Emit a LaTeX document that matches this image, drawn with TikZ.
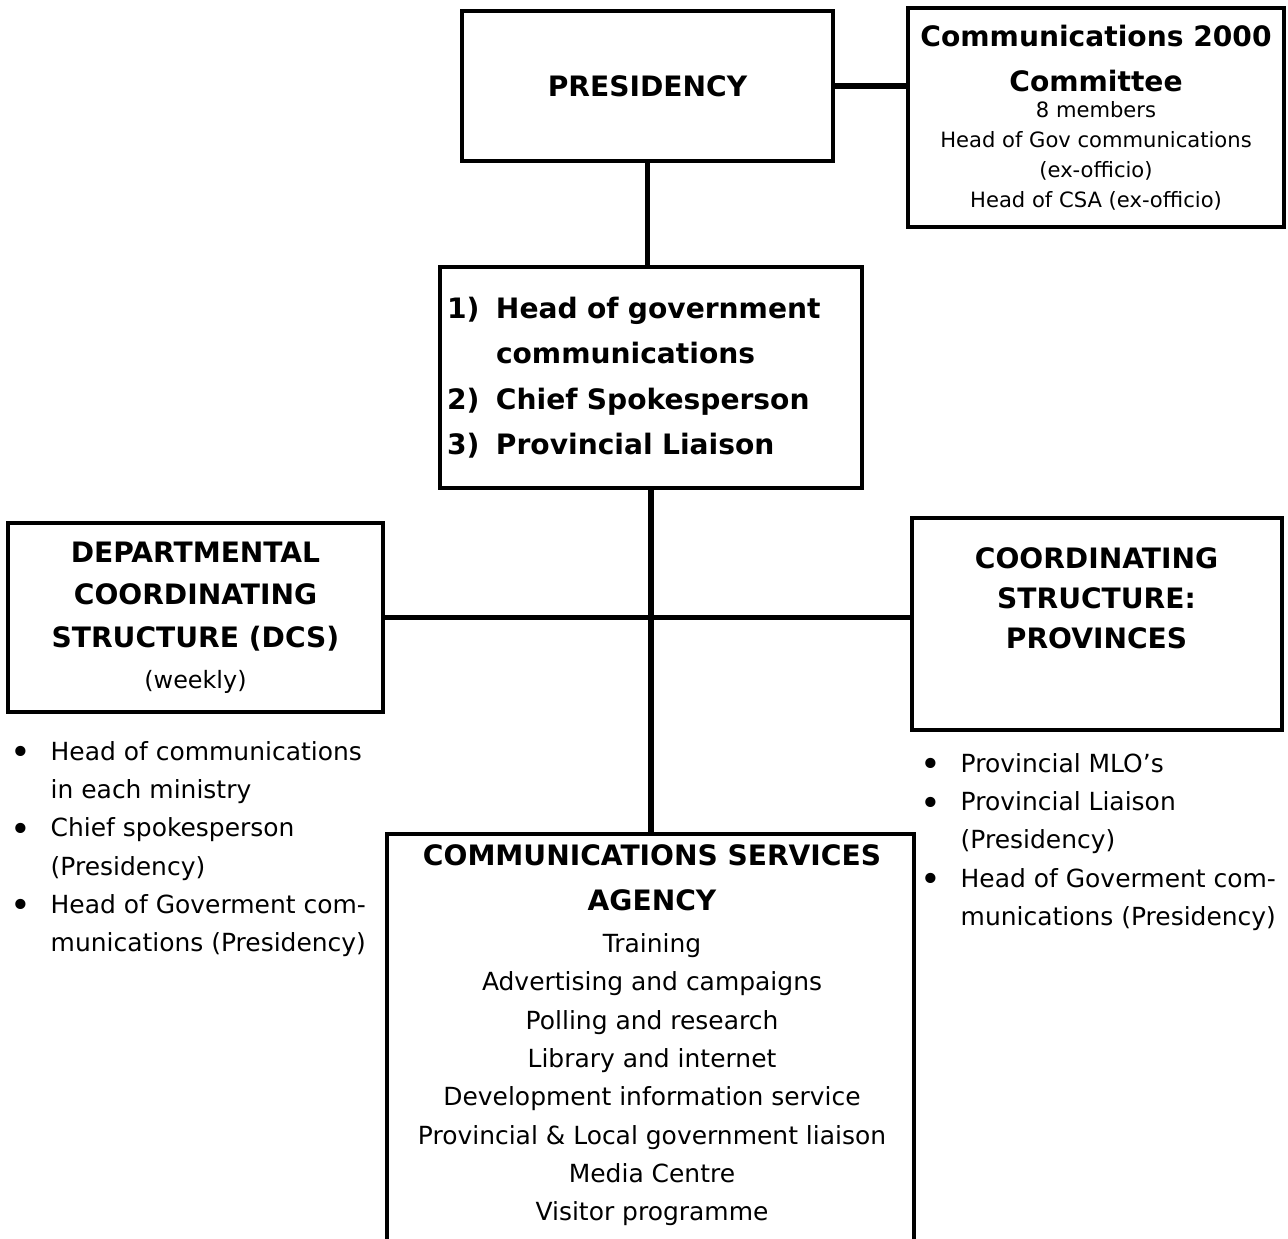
\documentclass[tikz,border=0pt]{standalone}
\usepackage{fontspec}
\setmainfont{DejaVu Sans}
\usepackage{tikz}
\newcommand{\bigbold}[1]{{\fontsize{8}{12.1}\selectfont\bfseries #1}}
\newcommand{\dotitem}{\makebox[0.40cm][l]{\raisebox{-1.3pt}{\fontsize{10}{10}\selectfont\textbullet}}}
\newcommand{\dotcont}{\hspace*{0.40cm}}

\begin{document}
\begin{tikzpicture}
    \tikzset{box/.style={rectangle,draw,line width=0.9pt,inner sep=0pt,align=center}}
    \tikzset{head/.style={font=\fontsize{8}{12.1}\selectfont\bfseries,align=center}}
    \tikzset{list/.style={font=\fontsize{7.1}{10.9}\selectfont,align=left,inner sep=0pt}}
    \tikzset{small/.style={font=\fontsize{6}{8.5}\selectfont}}
    \tikzset{link/.style={line width=1.6pt}}
    \useasboundingbox (0,0) rectangle (12.88,-12.38);
    \clip (0,0) rectangle (12.88,-12.38);
    \draw (6.475,-0.86) node[box,head,minimum width=3.71cm,minimum height=1.50cm](pres){PRESIDENCY};
    \draw (10.96,-1.175) node[box,small,minimum width=3.76cm,minimum height=2.19cm](comm){\bigbold{Communications 2000}\\[4.3pt]\bigbold{Committee}\\[-1.1pt]8 members\\Head of Gov communications\\(ex-officio)\\Head of CSA (ex-officio)};
    \draw (6.51,-3.775) node[box,minimum width=4.22cm,minimum height=2.21cm,text width=4.08cm,inner xsep=0.07cm,align=left,font=\fontsize{8}{12.9}\selectfont\bfseries](gov){\makebox[0.49cm][l]{1)}Head of government\\\hspace*{0.49cm}communications\\\makebox[0.49cm][l]{2)}Chief Spokesperson\\\makebox[0.49cm][l]{3)}Provincial Liaison};
    \draw (1.955,-6.175) node[box,head,minimum width=3.75cm,minimum height=1.89cm](dcs){DEPARTMENTAL\\COORDINATING\\STRUCTURE (DCS)\\[-0.4pt]{\fontsize{6.8}{8}\selectfont\mdseries (weekly)}};
    \draw (10.97,-6.24) node[box,minimum width=3.70cm,minimum height=2.12cm](prov){};
    \draw (10.965,-5.98) node[head](provtext){COORDINATING\\[-0.7pt]STRUCTURE:\\[-0.7pt]PROVINCES};
    \draw (6.505,-10.495) node[box,minimum width=5.27cm,minimum height=4.31cm](csa){};
    \draw (6.52,-10.355) node[list,align=center](csatext){\bigbold{COMMUNICATIONS SERVICES}\\[1.9pt]\bigbold{AGENCY}\\[1pt]Training\\Advertising and campaigns\\Polling and research\\Library and internet\\Development information service\\Provincial \& Local government liaison\\Media Centre\\Visitor programme};
    \draw (0.10,-8.49) node[list,anchor=west](dcslist){\dotitem Head of communications\\\dotcont in each ministry\\\dotitem Chief spokesperson\\\dotcont (Presidency)\\\dotitem Head of Goverment com-\\\dotcont munications (Presidency)};
    \draw (9.20,-8.42) node[list,anchor=west](provlist){\dotitem Provincial MLO’s\\\dotitem Provincial Liaison\\\dotcont (Presidency)\\\dotitem Head of Goverment com-\\\dotcont munications (Presidency)};
    \draw[link](pres.east) -- (pres.east -| comm.west);
    \draw[link](pres.south) -- (pres.south |- gov.north);
    \draw[link](gov.south) -- (gov.south |- csa.north);
    \draw[link](dcs.east) -- (dcs.east -| prov.west);

  \end{tikzpicture}
\end{document}
